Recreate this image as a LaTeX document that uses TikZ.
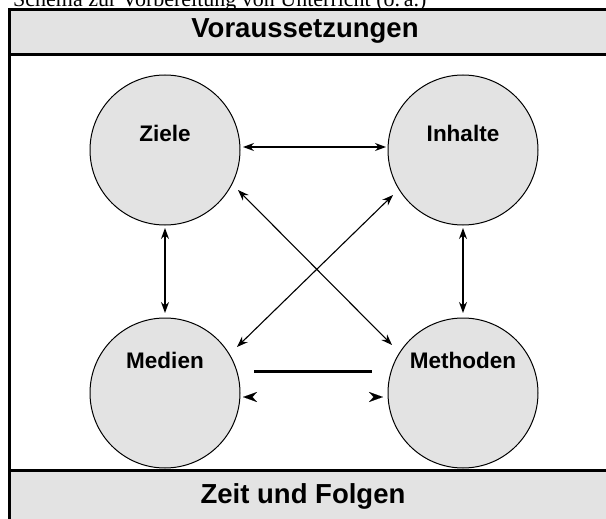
\documentclass[tikz,border=0pt]{standalone}
\usepackage{fontspec}
\setmainfont{Liberation Serif}
\newfontfamily\arial{Liberation Sans}
\usetikzlibrary{arrows.meta}
\definecolor{boxgray}{RGB}{227,227,227}
\tikzset{
  x=1pt, y=1pt,
  topic/.style={circle, draw=black, line width=1pt, fill=boxgray, minimum size=150pt, inner sep=0pt},
  toptext/.style={font=\arial\bfseries\fontsize{22.5}{26}\selectfont},
  bandtext/.style={font=\arial\bfseries\fontsize{27.5}{31}\selectfont},
  arr/.style={line width=1.1pt, {Stealth[length=11pt,width=8pt]}-{Stealth[length=11pt,width=8pt]}},
  tiponly/.style={draw=white, line width=0.1pt, {Stealth[length=14pt,width=10pt,color=black]}-{Stealth[length=14pt,width=10pt,color=black]}},
  frameline/.style={line width=3pt}
}
\begin{document}
\begin{tikzpicture}
\useasboundingbox (0,0) rectangle (606,-519);
% bands
\fill[boxgray] (9.5,-10) rectangle (620,-55);
\fill[boxgray] (9.5,-470) rectangle (620,-530);
\draw[frameline] (620,-10) -- (9.5,-10) -- (9.5,-530);
\draw[frameline] (9.5,-55) -- (620,-55);
\draw[frameline] (9.5,-470) -- (620,-470);
% title (cut at top, as in the reference)
\node[anchor=base west, inner sep=0pt, font=\fontsize{22}{24}\selectfont] (title) at (13,-6.5) {Schema zur Vorbereitung von Unterricht (o.\,a.)};
\node[bandtext] (vor) at (305,-31) {Voraussetzungen};
\node[bandtext] (zeit) at (303,-496) {Zeit und Folgen};
% circles
\node[topic, label={[toptext, yshift=17pt]center:Ziele}] (ziele) at (165,-150) {};
\node[topic, label={[toptext, yshift=17pt]center:Inhalte}] (inhalte) at (463,-150) {};
\node[topic, label={[toptext, yshift=33pt]center:Medien}] (medien) at (165,-393) {};
\node[topic, label={[toptext, yshift=33pt]center:Methoden}] (methoden) at (463,-393) {};
% connectors
\draw[arr] ([shift={(78,3)}]ziele.center) -- ([shift={(-77,3)}]inhalte.center);
\draw[arr] ([shift={(0,-78)}]ziele.center) -- ([shift={(0,80)}]medien.center);
\draw[arr] ([shift={(0,-78)}]inhalte.center) -- ([shift={(0,80)}]methoden.center);
\draw[arr] ([shift={(73,-40)}]ziele.center) -- ([shift={(-71,48)}]methoden.center);
\draw[arr] ([shift={(-70,-45)}]inhalte.center) -- ([shift={(72,46)}]medien.center);
\draw[line width=3pt] ([shift={(89,22)}]medien.center) -- ([shift={(-91,22)}]methoden.center);
\draw[tiponly] ([shift={(78,-4)}]medien.center) -- ([shift={(-80,-4)}]methoden.center);
\end{tikzpicture}
\end{document}
